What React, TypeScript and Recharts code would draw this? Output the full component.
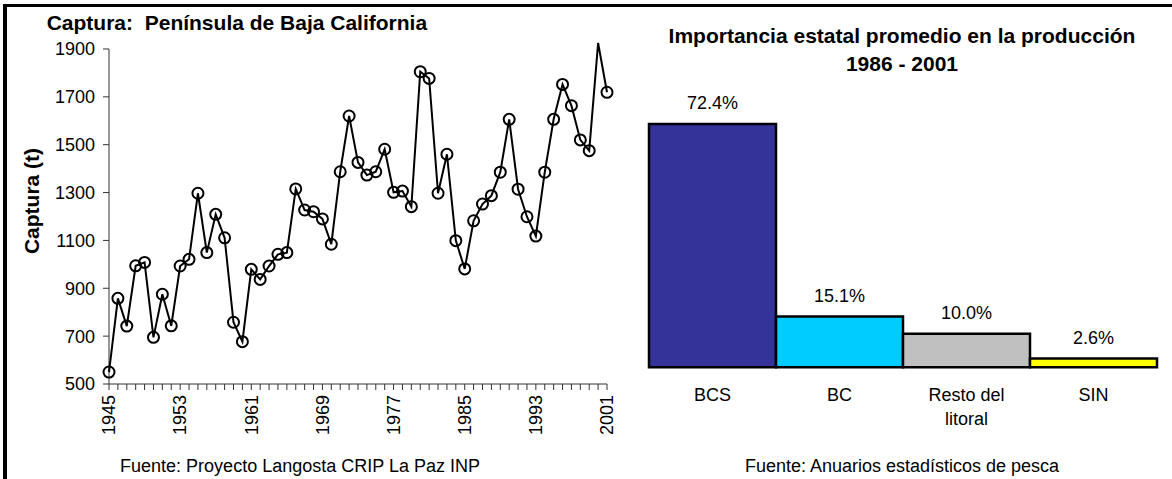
import React from 'react';
import {
  LineChart,
  Line,
  XAxis,
  YAxis,
  BarChart,
  Bar,
  Cell,
  LabelList,
  ReferenceLine,
  Text,
} from 'recharts';

const FONT = '"Liberation Sans", Arial, Helvetica, sans-serif';

// ---------- Left chart data ----------
const years = [
  1945, 1946, 1947, 1948, 1949, 1950, 1951, 1952, 1953, 1954, 1955, 1956, 1957, 1958, 1959,
  1960, 1961, 1962, 1963, 1964, 1965, 1966, 1967, 1968, 1969, 1970, 1971, 1972, 1973, 1974,
  1975, 1976, 1977, 1978, 1979, 1980, 1981, 1982, 1983, 1984, 1985, 1986, 1987, 1988, 1989,
  1990, 1991, 1992, 1993, 1994, 1995, 1996, 1997, 1998, 1999, 2000, 2001,
];
const captura = [
  550, 858, 742, 994, 1008, 695, 875, 743, 993, 1021, 1297, 1049, 1209, 1111, 758,
  677, 979, 937, 993, 1042, 1049, 1315, 1227, 1220, 1190, 1084, 1387, 1620, 1426, 1373,
  1387, 1481, 1301, 1306, 1241, 1805, 1777, 1297, 1460, 1099, 981, 1182, 1252, 1287, 1385,
  1606, 1314, 1199, 1118, 1385, 1606, 1752, 1663, 1520, 1475, 1925, 1719,
];
const yearLabels = [1945, 1953, 1961, 1969, 1977, 1985, 1993, 2001];
const yTicks = [500, 700, 900, 1100, 1300, 1500, 1700, 1900];

// ---------- Right chart data ----------
const states = ['BCS', 'BC', 'Resto del litoral', 'SIN'];
const shares = [72.4, 15.1, 10.0, 2.6];
const barColors = ['#333399', '#00CCFF', '#C0C0C0', '#FFFF00'];

const lineData = years.map((year, i) => ({ year, catch: captura[i] }));
const barData = states.map((name, i) => ({ name, share: shares[i] }));
const edgeTicks = [...states.map((_, i) => i), states.length];

const yMax = yTicks[yTicks.length - 1];

const YearTick = (props: any) => {
  const { x, y, payload } = props;
  if (!yearLabels.includes(payload.value)) return <g />;
  return (
    <text
      x={x}
      y={y}
      transform={`rotate(-90, ${x}, ${y})`}
      textAnchor="end"
      dy="0.35em"
      fontSize={18}
      fontFamily={FONT}
      fill="#000"
    >
      {payload.value}
    </text>
  );
};

const renderDot = (props: any) => {
  const { cx, cy, payload, index } = props;
  if (payload.catch > yMax) return <g key={`d${index}`} />;
  return (
    <circle
      key={`d${index}`}
      cx={cx}
      cy={cy}
      r={5.5}
      fill="none"
      stroke="#000"
      strokeWidth={2}
    />
  );
};

const StateTick = (props: any) => {
  const { x, y, payload } = props;
  return (
    <Text
      x={x}
      y={y}
      width={100}
      textAnchor="middle"
      verticalAnchor="start"
      fontSize={18}
      fontFamily={FONT}
      fill="#000"
      lineHeight={24}
      style={{ fontSize: 18, fontFamily: FONT }}
    >
      {payload.value}
    </Text>
  );
};

const NoLabel = () => <g />;

export default function App() {
  return (
    <div
      style={{
        position: 'absolute',
        left: 0,
        top: 0,
        width: 1172,
        height: 479,
        background: '#fff',
        overflow: 'hidden',
        fontFamily: FONT,
      }}
    >
      {/* frame */}
      <div style={{ position: 'absolute', left: 3, top: 4, width: 1169, height: 3, background: '#000' }} />
      <div style={{ position: 'absolute', left: 3, top: 4, width: 4, height: 475, background: '#000' }} />

      <div style={{ position: 'absolute', left: 0, top: 0 }}>
        <LineChart
          width={640}
          height={479}
          data={lineData}
          margin={{ top: 39.4, right: 33, left: 49, bottom: 55 }}
        >
          <XAxis
            dataKey="year"
            type="number"
            domain={[years[0], years[years.length - 1]]}
            ticks={years}
            interval={0}
            tickSize={6}
            tickMargin={5}
            height={40}
            stroke="#333"
            tick={<YearTick />}
          />
          <YAxis
            type="number"
            domain={[500, 1940]}
            ticks={yTicks}
            interval={0}
            width={60}
            tickSize={6}
            tickMargin={8}
            axisLine={false}
            tickLine={{ stroke: '#333' }}
            tick={{ fontSize: 18, fill: '#000', fontFamily: FONT }}
          />
          <ReferenceLine
            segment={[
              { x: years[0], y: yTicks[0] },
              { x: years[0], y: yMax },
            ]}
            stroke="#333"
          />
          <Line
            dataKey="catch"
            stroke="#000"
            strokeWidth={2}
            dot={renderDot}
            activeDot={false}
            isAnimationActive={false}
          />
        </LineChart>
      </div>

      <div style={{ position: 'absolute', left: 620, top: 0 }}>
        <BarChart
          width={552}
          height={479}
          data={barData}
          margin={{ top: 98.5, right: 15, left: 29, bottom: 51.7 }}
          barCategoryGap={0}
        >
          <XAxis
            xAxisId="edges"
            type="number"
            domain={[0, states.length]}
            ticks={edgeTicks}
            allowDataOverflow
            interval={0}
            height={0}
            tickSize={6}
            axisLine={false}
            tickLine={{ stroke: '#888' }}
            tick={<NoLabel />}
          />
          <XAxis
            xAxisId="cat"
            dataKey="name"
            height={60}
            interval={0}
            axisLine={false}
            tickLine={false}
            tickSize={0}
            tickMargin={21}
            tick={<StateTick />}
          />
          <YAxis hide domain={[0, 80]} />
          <Bar
            xAxisId="cat"
            dataKey="share"
            stroke="#000"
            strokeWidth={2.5}
            isAnimationActive={false}
          >
            {barData.map((d, i) => (
              <Cell key={d.name} fill={barColors[i]} />
            ))}
            <LabelList
              dataKey="share"
              position="top"
              offset={15}
              formatter={(v: any) => `${Number(v).toFixed(1)}%`}
              fontSize={18}
              fill="#000"
              fontFamily={FONT}
            />
          </Bar>
        </BarChart>
      </div>

      {/* titles and notes */}
      <svg
        width={1172}
        height={479}
        style={{ position: 'absolute', left: 0, top: 0, pointerEvents: 'none' }}
        fontFamily={FONT}
      >
        <text x={46.7} y={30} fontSize={21} fontWeight="bold" fill="#000" style={{ whiteSpace: 'pre' }}>
          {'Captura:  Península de Baja California'}
        </text>
        <text
          x={39}
          y={201}
          transform="rotate(-90, 39, 201)"
          textAnchor="middle"
          fontSize={21}
          fontWeight="bold"
          fill="#000"
        >
          Captura (t)
        </text>
        <text x={300} y={472} textAnchor="middle" fontSize={18} fill="#000">
          Fuente: Proyecto Langosta CRIP La Paz INP
        </text>
        <text x={902} y={43.3} textAnchor="middle" fontSize={21} fontWeight="bold" fill="#000">
          Importancia estatal promedio en la producción
        </text>
        <text x={902} y={70.7} textAnchor="middle" fontSize={21} fontWeight="bold" fill="#000">
          1986 - 2001
        </text>
        <text x={902} y={472} textAnchor="middle" fontSize={18} fill="#000">
          Fuente: Anuarios estadísticos de pesca
        </text>
      </svg>
    </div>
  );
}
